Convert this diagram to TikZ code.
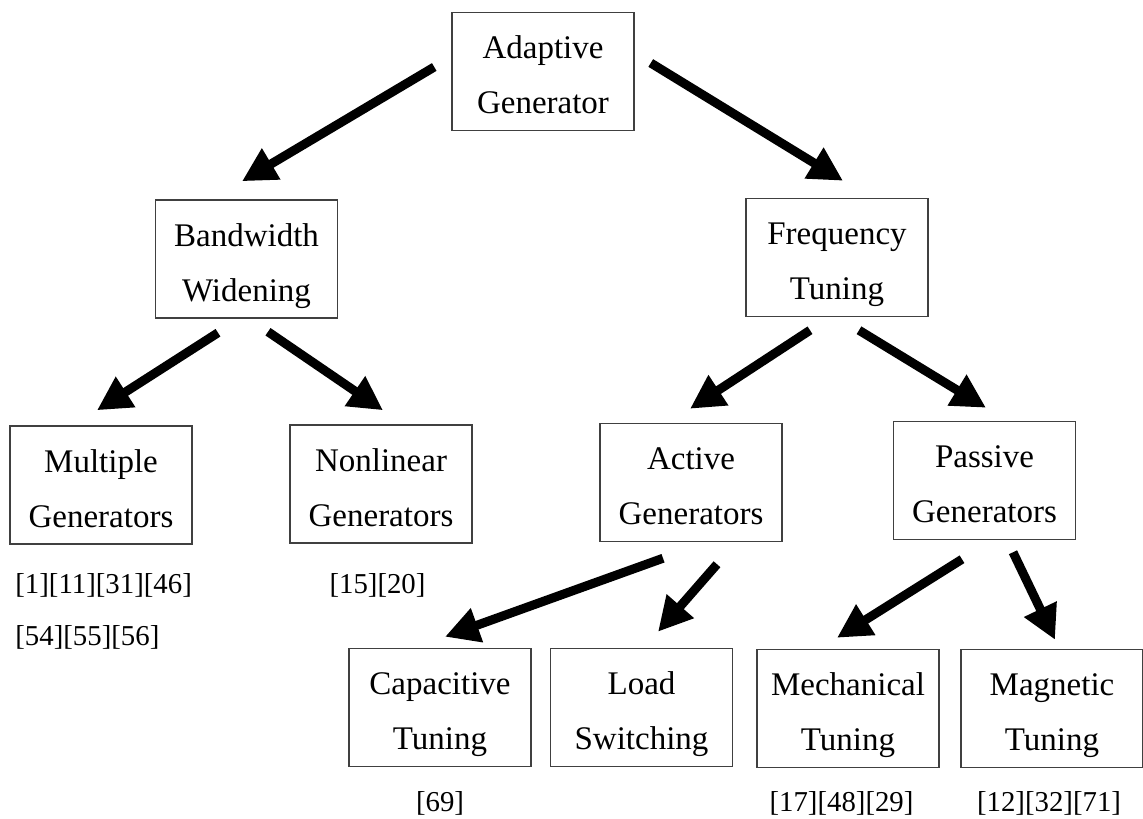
\documentclass[tikz,border=0pt]{standalone}
\usepackage{fontspec}
\setmainfont{Liberation Serif}
\usetikzlibrary{arrows.meta}

\begin{document}
\begin{tikzpicture}[x=0.5pt,y=-0.5pt
  ,box/.style={draw=black!75,line width=0.75pt,minimum width=91pt,minimum height=59pt
              ,inner sep=0pt,align=center,text height=42pt,text depth=0pt
              ,font=\fontsize{16.5}{27.5}\selectfont}
  ,ref/.style={inner sep=0pt,align=left,font=\fontsize{14.4}{26}\selectfont}
  ,arr/.style={line width=4.5pt,-{Triangle[length=17pt,width=17pt]}}
  ]
  \useasboundingbox (0,0) rectangle (1143,818);
  % tree of boxes
  \node[box] (ada)  at (543,71.5)   {Adaptive\\Generator};
  \node[box] (bw)   at (246.5,259)  {Bandwidth\\Widening};
  \node[box] (ft)   at (837,257.5)  {Frequency\\Tuning};
  \node[box] (mult) at (101,485)    {Multiple\\Generators};
  \node[box] (nonl) at (381,484)    {Nonlinear\\Generators};
  \node[box] (act)  at (691,482.5)  {Active\\Generators};
  \node[box] (pas)  at (984.5,480.5){Passive\\Generators};
  \node[box] (cap)  at (440,707.5)  {Capacitive\\Tuning};
  \node[box] (load) at (641.5,707.5){Load\\Switching};
  \node[box] (mech) at (848,708.5)  {Mechanical\\Tuning};
  \node[box] (magn) at (1052,708.5) {Magnetic\\Tuning};
  % references
  \node[ref,anchor=base west] (rmult) at (15,645)   {[1][11][31][46]\\{}[54][55][56]};
  \node[ref,anchor=base]      (rnonl) at (377.5,593){[15][20]};
  \node[ref,anchor=base]      (rcap)  at (440,811)  {[69]};
  \node[ref,anchor=base]      (rmech) at (841.5,811){[17][48][29]};
  \node[ref,anchor=base]      (rmagn) at (1049,811) {[12][32][71]};
  % arrows
  \draw[arr] ([shift={(-17,-4.5)}]ada.west)  -- ([shift={(-4.5,-18)}]bw.north);
  \draw[arr] ([shift={(16,-8.5)}]ada.east)   -- ([shift={(6,-17)}]ft.north);
  \draw[arr] ([shift={(-28.5,14)}]bw.south)  -- ([shift={(-4,-15)}]mult.north);
  \draw[arr] ([shift={(21.5,13)}]bw.south)   -- ([shift={(2,-14)}]nonl.north);
  \draw[arr] ([shift={(-27,13)}]ft.south)    -- ([shift={(-1,-14)}]act.north);
  \draw[arr] ([shift={(22,13)}]ft.south)     -- ([shift={(1.5,-13)}]pas.north);
  \draw[arr] ([shift={(-28,16)}]act.south)   -- ([shift={(5,-11)}]cap.north);
  \draw[arr] ([shift={(26,22)}]act.south)    -- ([shift={(16.5,-16)}]load.north);
  \draw[arr] ([shift={(-22.5,19)}]pas.south) -- ([shift={(-11,-11)}]mech.north);
  \draw[arr] ([shift={(28.5,12)}]pas.south)  -- ([shift={(3,-9)}]magn.north);
\end{tikzpicture}
\end{document}
